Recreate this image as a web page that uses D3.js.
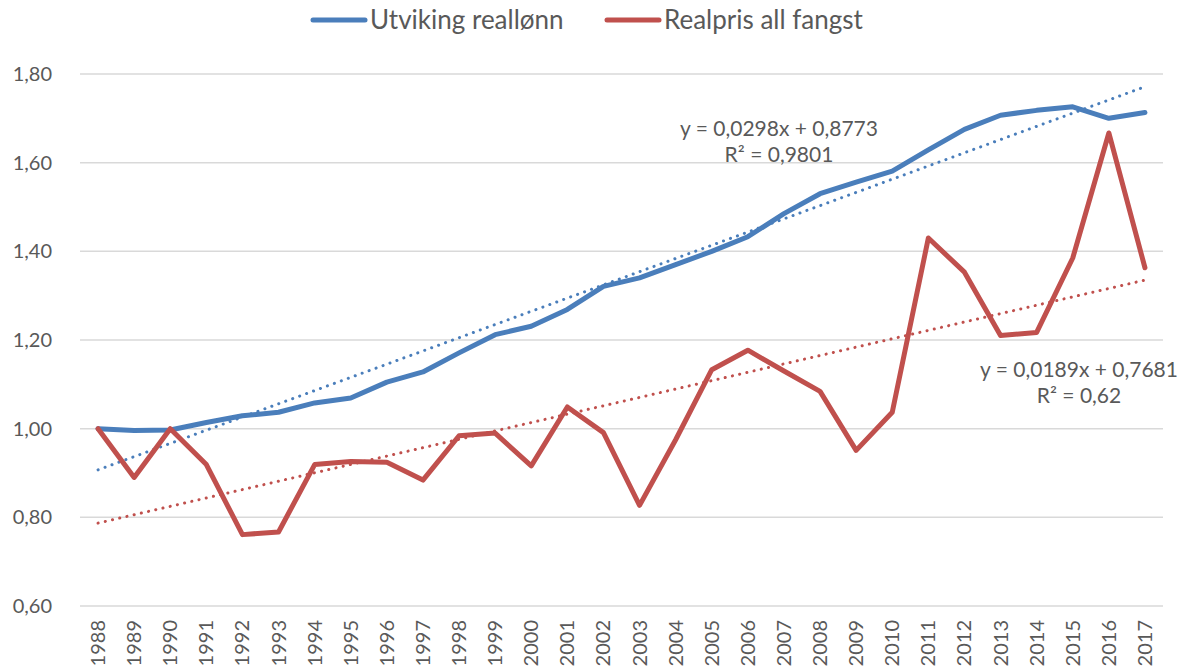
<!DOCTYPE html>
<html>
<head>
<meta charset="utf-8">
<script src="https://cdn.jsdelivr.net/npm/d3@7"></script>
<style>
  body { margin: 0; background: #fff; }
  svg text { font-family: Lato, "Open Sans", sans-serif; fill: #595959; }
</style>
</head>
<body>
<script>
// data
const years = d3.range(1988, 2018).map(String);

const reallonn = [
  1.000, 0.996, 0.997, 1.014, 1.029, 1.037, 1.058, 1.069, 1.105, 1.128,
  1.171, 1.212, 1.231, 1.269, 1.321, 1.340, 1.370, 1.400, 1.433, 1.485,
  1.530, 1.556, 1.581, 1.629, 1.675, 1.707, 1.718, 1.726, 1.700, 1.713
];

const realpris = [
  1.000, 0.890, 1.000, 0.919, 0.761, 0.767, 0.919, 0.926, 0.924, 0.884,
  0.984, 0.990, 0.916, 1.049, 0.991, 0.827, 0.975, 1.133, 1.177, 1.130,
  1.084, 0.951, 1.037, 1.430, 1.353, 1.210, 1.217, 1.385, 1.667, 1.363
];

const yTicks = [0.6, 0.8, 1.0, 1.2, 1.4, 1.6, 1.8];

// trendline coefficients as printed on the chart (x = 1..30)
const trendLonn = { slope: 0.0298, intercept: 0.8773, label: 'y = 0,0298x + 0,8773', r2: 'R² = 0,9801' };
const trendPris = { slope: 0.0189, intercept: 0.7681, label: 'y = 0,0189x + 0,7681', r2: 'R² = 0,62' };

const width = 1187;
const height = 669;
const margin = { top: 74, right: 24, bottom: 63, left: 80 };

const blue = '#4a7ebb';
const red = '#c0504d';

const svg = d3.select('body').append('svg')
  .attr('width', width)
  .attr('height', height);

const x = d3.scaleBand()
  .domain(years)
  .range([margin.left, width - margin.right]);

const y = d3.scaleLinear()
  .domain([0.6, 1.8])
  .range([height - margin.bottom, margin.top]);

const xc = d => x(d) + x.bandwidth() / 2;

// gridlines
svg.append('g')
  .selectAll('line').data(yTicks)
  .enter().append('line')
    .attr('x1', margin.left)
    .attr('x2', width - margin.right)
    .attr('y1', d => y(d))
    .attr('y2', d => y(d))
    .attr('stroke', '#d9d9d9')
    .attr('stroke-width', 1.5);

// y axis labels
const fmt = d => d3.format('.2f')(d).replace('.', ',');
svg.append('g')
  .selectAll('text').data(yTicks)
  .enter().append('text')
    .attr('x', 52)
    .attr('y', d => y(d))
    .attr('dy', '0.35em')
    .attr('text-anchor', 'end')
    .attr('font-size', 20)
    .text(fmt);

// x axis labels, rotated
svg.append('g')
  .selectAll('text').data(years)
  .enter().append('text')
    .attr('transform', d => `translate(${xc(d)},${y(0.6) + 14}) rotate(-90)`)
    .attr('dy', '0.35em')
    .attr('text-anchor', 'end')
    .attr('font-size', 20)
    .text(d => d);

// trendlines
function trendPoints(t) {
  return [years[0], years[years.length - 1]].map((yr, i) => {
    const n = i === 0 ? 1 : years.length;
    return [xc(yr), y(t.slope * n + t.intercept)];
  });
}

[[trendLonn, blue], [trendPris, red]].forEach(([t, color]) => {
  svg.append('path')
    .attr('d', d3.line()(trendPoints(t)))
    .attr('fill', 'none')
    .attr('stroke', color)
    .attr('stroke-width', 3)
    .attr('stroke-linecap', 'round')
    .attr('stroke-dasharray', '0.1 7.3');
});

// series lines
const line = d3.line()
  .x((d, i) => xc(years[i]))
  .y(d => y(d));

[[reallonn, blue], [realpris, red]].forEach(([vals, color]) => {
  svg.append('path')
    .datum(vals)
    .attr('d', line)
    .attr('fill', 'none')
    .attr('stroke', color)
    .attr('stroke-width', 5)
    .attr('stroke-linejoin', 'round')
    .attr('stroke-linecap', 'round');
});

// trendline equations
const eqs = [
  { t: trendLonn, cx: 779, by: 136 },
  { t: trendPris, cx: 1079, by: 377 },
];
eqs.forEach(e => {
  svg.append('text')
    .attr('x', e.cx).attr('y', e.by)
    .attr('text-anchor', 'middle')
    .attr('font-size', 21)
    .text(e.t.label);
  svg.append('text')
    .attr('x', e.cx).attr('y', e.by + 26)
    .attr('text-anchor', 'middle')
    .attr('font-size', 21)
    .text(e.t.r2);
});

// legend
const legendItems = [
  { name: 'Utviking reallønn', color: blue, x0: 311 },
  { name: 'Realpris all fangst', color: red, x0: 605 },
];
const legend = svg.append('g')
  .selectAll('g').data(legendItems)
  .enter().append('g')
    .attr('transform', d => `translate(${d.x0},20)`);
legend.append('line')
  .attr('x1', 2).attr('x2', 54)
  .attr('stroke', d => d.color)
  .attr('stroke-width', 5)
  .attr('stroke-linecap', 'round');
legend.append('text')
  .attr('x', 59)
  .attr('dy', '0.35em')
  .attr('font-size', 26)
  .text(d => d.name);
</script>
</body>
</html>
